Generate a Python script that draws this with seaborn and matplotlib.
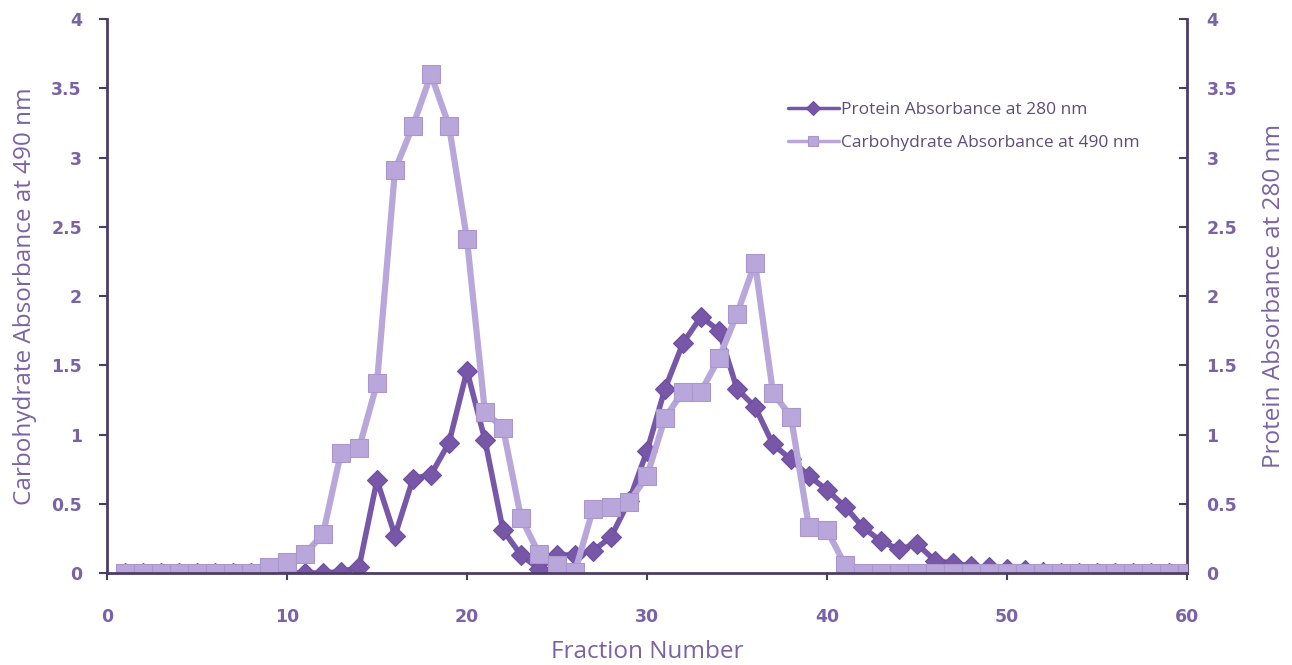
import matplotlib
matplotlib.use('Agg')
import matplotlib.pyplot as plt
import numpy as np
import pandas as pd
import seaborn as sns
from matplotlib.ticker import FuncFormatter

# Data (fractions 1..60)
fraction = list(range(1, 61))

carbohydrate_490 = [0, 0, 0, 0, 0, 0, 0, 0, 0.04, 0.08,
                    0.14, 0.28, 0.87, 0.90, 1.37, 2.91, 3.23, 3.60, 3.23, 2.41,
                    1.16, 1.05, 0.40, 0.14, 0.06, 0.01, 0.46, 0.48, 0.51, 0.70,
                    1.12, 1.31, 1.31, 1.55, 1.87, 2.24, 1.30, 1.13, 0.33, 0.31,
                    0.06, 0, 0, 0, 0, 0, 0, 0, 0, 0,
                    0, 0, 0, 0, 0, 0, 0, 0, 0, 0]

protein_280 = [0, 0, 0, 0, 0, 0, 0, 0, 0, 0,
               0, 0, 0.01, 0.04, 0.67, 0.27, 0.68, 0.71, 0.94, 1.46,
               0.96, 0.31, 0.13, 0.03, 0.13, 0.13, 0.16, 0.26, 0.52, 0.88,
               1.33, 1.66, 1.85, 1.75, 1.33, 1.20, 0.93, 0.82, 0.70, 0.60,
               0.48, 0.33, 0.23, 0.17, 0.21, 0.09, 0.07, 0.05, 0.04, 0.03,
               0.02, 0.01, 0, 0, 0, 0, 0, 0, 0, 0]

df = pd.DataFrame({'fraction': fraction,
                   'carb': carbohydrate_490,
                   'protein': protein_280})

sns.set_style('white')
plt.rcParams['font.family'] = ['DejaVu Sans']

dark = '#7857a8'
light = '#b9a7db'
text_col = '#7a62a6'
spine_col = '#4d3d66'

fig = plt.figure(figsize=(12.92, 6.65), dpi=100)
ax = fig.add_axes([0.0828, 0.1383, 0.8359, 0.8331])
ax2 = ax.twinx()

# protein on the right axis
sns.lineplot(data=df, x='fraction', y='protein', ax=ax2, color=dark,
             linewidth=4.0, marker='D', markersize=10, markeredgecolor='#6d4e9c',
             markeredgewidth=0.8, label='Protein Absorbance at 280 nm', legend=False)
# carbohydrate on the left axis
sns.lineplot(data=df, x='fraction', y='carb', ax=ax, color=light,
             linewidth=4.5, marker='s', markersize=13, markeredgecolor='#a997cc',
             markeredgewidth=0.8, label='Carbohydrate Absorbance at 490 nm', legend=False)

# squares drawn above the diamonds
ax.set_zorder(ax2.get_zorder() + 1)
ax.patch.set_visible(False)

fmt = FuncFormatter(lambda v, p: ('%g' % v))
for a in (ax, ax2):
    a.set_xlim(0, 60)
    a.set_ylim(0, 4)
    a.set_yticks(np.arange(0, 4.01, 0.5))
    a.yaxis.set_major_formatter(fmt)
    for s in a.spines.values():
        s.set_visible(False)
    a.grid(False)

ax.set_xticks(range(0, 61, 10))
ax.spines['left'].set_visible(True)
ax.spines['bottom'].set_visible(True)
ax.spines['left'].set_color(spine_col)
ax.spines['bottom'].set_color(spine_col)
ax.spines['left'].set_linewidth(2)
ax.spines['bottom'].set_linewidth(2)
ax2.spines['right'].set_visible(True)
ax2.spines['right'].set_color(spine_col)
ax2.spines['right'].set_linewidth(2)

ax.tick_params(axis='y', direction='out', length=6, width=1.5, color=spine_col,
               labelsize=12.5, labelcolor=text_col, pad=12, left=True)
ax.tick_params(axis='x', direction='out', length=5, width=1.5, color=spine_col,
               labelsize=12.5, labelcolor=text_col, pad=20, bottom=True)
ax2.tick_params(axis='y', direction='in', length=6, width=1.5, color=spine_col,
                labelsize=12.5, labelcolor=text_col, pad=14, right=True)

for lab in ax.get_xticklabels() + ax.get_yticklabels() + ax2.get_yticklabels():
    lab.set_fontweight('semibold')

ax.set_xlabel('Fraction Number', fontsize=17.5, color=text_col, family='Open Sans', labelpad=10)
ax.set_ylabel('Carbohydrate Absorbance at 490 nm', fontsize=17.5, color=text_col,
              family='Open Sans', labelpad=10)
ax2.set_ylabel('Protein Absorbance at 280 nm', fontsize=17.5, color=text_col,
               family='Open Sans', labelpad=18)

h1, l1 = ax2.get_legend_handles_labels()
h2, l2 = ax.get_legend_handles_labels()
leg = fig.legend(h1 + h2, l1 + l2, loc='center left', bbox_to_anchor=(0.598, 0.81),
                 frameon=False, handlelength=2.9, labelspacing=1.0, handletextpad=0.15,
                 prop={'family': 'Open Sans', 'size': 12.5})
for t in leg.get_texts():
    t.set_color('#5e4d78')
for h in leg.legend_handles:
    h.set_markersize(7)
    h.set_linewidth(2.5)

fig.savefig('out.png', dpi=100)
